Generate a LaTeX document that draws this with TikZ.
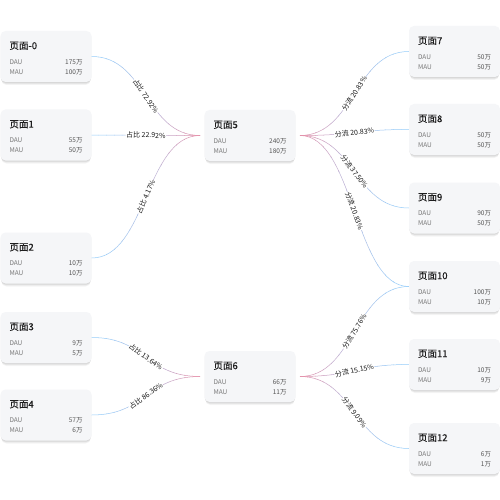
\documentclass[tikz,border=0pt]{standalone}
\usepackage{fontspec}
\setmainfont{Noto Sans CJK SC}
\newfontfamily\ttlfont{Noto Sans CJK SC}[FakeBold=0.35]
\usetikzlibrary{calc}
\definecolor{cardfill}{HTML}{F5F6F8}
\definecolor{ttlcol}{HTML}{1E1E1E}
\definecolor{keycol}{HTML}{7A7A7A}
\definecolor{valcol}{HTML}{555555}
\definecolor{eblue}{RGB}{150,205,250}
\definecolor{epink}{RGB}{232,140,165}
\tikzset{
  card/.style={fill=cardfill, rounded corners=5pt, minimum width=91pt, minimum height=51pt, inner sep=0pt},
  cardshadow/.style={fill=black, opacity=0.045, rounded corners=5pt},
  ttl/.style={anchor=west, inner sep=0pt, text=ttlcol, font=\ttlfont\fontsize{9.5}{11}\selectfont},
  key/.style={anchor=west, inner sep=0pt, text=keycol, font=\fontsize{6.5}{7.5}\selectfont},
  val/.style={anchor=east, inner sep=0pt, text=valcol, font=\fontsize{6.5}{7.5}\selectfont},
  edgeline/.style={line width=0.5pt},
  lbl/.style={fill=white, inner sep=0.5pt, text=black!90, font=\fontsize{7}{8}\selectfont, sloped}
}
\newcommand\card[6]{%
  \foreach \s in {0.6,1.4,2.2,3.0}{%
    \fill[cardshadow] ($(#2,#3)+(-45.5+0.3*\s,-25.5+\s)$) rectangle ($(#2,#3)+(45.5-0.3*\s,25.5+\s)$);
  }%
  \node[card] (#1) at (#2,#3) {};
  \node[ttl] (#1t) at ($(#1.north west)+(9,15)$) {#4};
  \node[key] (#1dk) at ($(#1.north west)+(9,31)$) {DAU};
  \node[key] (#1mk) at ($(#1.north west)+(9,41)$) {MAU};
  \node[val] (#1dv) at ($(#1.north east)+(-9,31)$) {#5};
  \node[val] (#1mv) at ($(#1.north east)+(-9,41)$) {#6};
}
% gradient edge: #1 from, #2 to, #3 x left, #4 x right, #5 = 0 pink at right, 1 pink at left
\newcommand\grad[5]{%
  \foreach \i in {0,...,13}{%
    \pgfmathsetmacro\xa{#3+(#4-#3)*\i/14-0.2}%
    \pgfmathsetmacro\xb{#3+(#4-#3)*(\i+1)/14+0.2}%
    \pgfmathtruncatemacro\mm{ifthenelse(#5==0,100*((\i+0.5)/14)^1.6,100*(1-(\i+0.5)/14)^1.6)}%
    \begin{scope}
      \clip (\xa,-10) rectangle (\xb,510);
      \draw[edgeline, draw=epink!\mm!eblue] (#1) .. controls +(54.5,0) and +(-54.5,0) .. (#2);
    \end{scope}
  }%
}
\newcommand\lab[3]{%
  \path (#1) .. controls +(54.5,0) and +(-54.5,0) .. (#2) node[lbl, pos=0.5] {#3};
}
\begin{document}
\begin{tikzpicture}[x=1pt,y=-1pt]
\useasboundingbox (0,0) rectangle (500,500);
\fill[white] (0,0) rectangle (500,500);
% named connector ends at the central nodes
\coordinate (p5in) at (200,135.5);
\coordinate (p5out) at (300,135.5);
\coordinate (p6in) at (200,376.5);
\coordinate (p6out) at (300,376.5);
% cards
\card{p0}{46}{56.5}{页面-0}{175万}{100万}
\card{p1}{46}{135}{页面1}{55万}{50万}
\card{p2}{46}{258}{页面2}{10万}{10万}
\card{p3}{46}{337.5}{页面3}{9万}{5万}
\card{p4}{46}{415}{页面4}{57万}{6万}
\card{p5}{250}{135.5}{页面5}{240万}{180万}
\card{p6}{250}{376.5}{页面6}{66万}{11万}
\card{p7}{454.5}{51.5}{页面7}{50万}{50万}
\card{p8}{454.5}{129.5}{页面8}{50万}{50万}
\card{p9}{454.5}{208}{页面9}{90万}{50万}
\card{p10}{454.5}{286.5}{页面10}{100万}{10万}
\card{p11}{454.5}{364.5}{页面11}{10万}{9万}
\card{p12}{454.5}{448.5}{页面12}{6万}{1万}
% connectors
\grad{p0.east}{p5in}{91}{200}{0}
\grad{p1.east}{p5in}{91}{200}{0}
\grad{p2.east}{p5in}{91}{200}{0}
\grad{p3.east}{p6in}{91}{200}{0}
\grad{p4.east}{p6in}{91}{200}{0}
\grad{p5out}{p7.west}{300}{409}{1}
\grad{p5out}{p8.west}{300}{409}{1}
\grad{p5out}{p9.west}{300}{409}{1}
\grad{p5out}{p10.west}{300}{409}{1}
\grad{p6out}{p10.west}{300}{409}{1}
\grad{p6out}{p11.west}{300}{409}{1}
\grad{p6out}{p12.west}{300}{409}{1}
% labels
\lab{p0.east}{p5in}{占比 72.92\%}
\lab{p1.east}{p5in}{占比 22.92\%}
\lab{p2.east}{p5in}{占比 4.17\%}
\lab{p3.east}{p6in}{占比 13.64\%}
\lab{p4.east}{p6in}{占比 86.36\%}
\lab{p5out}{p7.west}{分流 20.83\%}
\lab{p5out}{p8.west}{分流 20.83\%}
\lab{p5out}{p9.west}{分流 37.50\%}
\lab{p5out}{p10.west}{分流 20.83\%}
\lab{p6out}{p10.west}{分流 75.76\%}
\lab{p6out}{p11.west}{分流 15.15\%}
\lab{p6out}{p12.west}{分流 9.09\%}
\end{tikzpicture}
\end{document}
